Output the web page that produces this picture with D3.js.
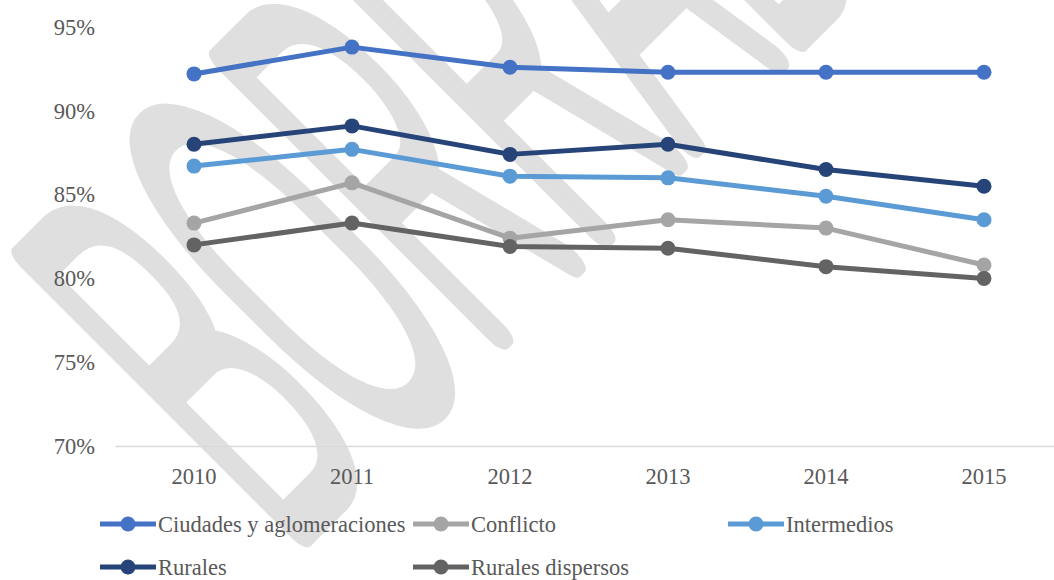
<!DOCTYPE html>
<html>
<head>
<meta charset="utf-8">
<script src="https://cdn.jsdelivr.net/npm/d3@7"></script>
<style>
  html, body { margin: 0; padding: 0; background: #ffffff; }
  svg { display: block; }
</style>
</head>
<body>
<svg id="chart" width="1054" height="580"></svg>
<script>
// Años del eje horizontal
const years = ["2010", "2011", "2012", "2013", "2014", "2015"];

// Porcentajes por tipo de municipio
const ciudades = [92.2, 93.8, 92.6, 92.3, 92.3, 92.3];
const conflicto = [83.3, 85.7, 82.4, 83.5, 83.0, 80.8];
const intermedios = [86.7, 87.7, 86.1, 86.0, 84.9, 83.5];
const rurales = [88.0, 89.1, 87.4, 88.0, 86.5, 85.5];
const ruralesDispersos = [82.0, 83.3, 81.9, 81.8, 80.7, 80.0];

// Marcas del eje vertical
const yTicks = [70, 75, 80, 85, 90, 95];

const seriesNames = ["Ciudades y aglomeraciones", "Conflicto", "Intermedios", "Rurales", "Rurales dispersos"];
const seriesColors = ["#4472C4", "#A5A5A5", "#5B9BD5", "#264478", "#636363"];
const seriesValues = [ciudades, conflicto, intermedios, rurales, ruralesDispersos];

const series = seriesNames.map((name, i) => ({
  name, color: seriesColors[i],
  points: years.map((y, j) => ({ year: y, value: seriesValues[i][j] }))
}));

const svg = d3.select("#chart");
const font = "'Liberation Serif', 'Times New Roman', serif";
const textColor = "#595959";
const fontSize = 22.5;

// Marca de agua "BORRADOR" al fondo
const wm = svg.append("text")
  .text("BORRADOR")
  .attr("font-family", "Roboto, 'Liberation Sans', sans-serif")
  .attr("font-weight", 100)
  .attr("font-size", 540)
  .attr("fill", "#dfdfdf")
  .attr("stroke", "#dfdfdf")
  .attr("stroke-width", 29)
  .attr("stroke-linejoin", "round")
  .attr("stroke-linecap", "round")
  .attr("vector-effect", "non-scaling-stroke");
const boLen = wm.node().getSubStringLength(0, 2);
const sx = 280 / boLen;
wm.attr("transform", `translate(282,548) rotate(-45) scale(${sx},1)`);

// Escalas
const x = d3.scaleBand().domain(years).range([115, 1063]).padding(0);
const y = d3.scaleLinear().domain([70, 95]).range([446, 27]);

// Eje X
const xAxis = svg.append("g")
  .attr("transform", `translate(0,${y(70)})`)
  .call(d3.axisBottom(x).tickSize(0).tickPadding(22));
xAxis.select(".domain").attr("stroke", "#d9d9d9").attr("stroke-width", 1.5);
xAxis.selectAll("text")
  .attr("font-family", font).attr("font-size", fontSize).attr("fill", textColor);

// Eje Y (solo etiquetas)
const yAxis = svg.append("g")
  .attr("transform", "translate(95,0)")
  .call(d3.axisLeft(y).tickValues(yTicks).tickFormat(d => d + "%").tickSize(0).tickPadding(0));
yAxis.select(".domain").remove();
yAxis.selectAll("text")
  .attr("font-family", font).attr("font-size", fontSize).attr("fill", textColor);

// Líneas y marcadores
const line = d3.line()
  .x(d => x(d.year) + x.bandwidth() / 2)
  .y(d => y(d.value));

const g = svg.append("g");
series.forEach(s => {
  g.append("path")
    .datum(s.points)
    .attr("d", line)
    .attr("fill", "none")
    .attr("stroke", s.color)
    .attr("stroke-width", 5)
    .attr("stroke-linejoin", "round");
  g.selectAll(null)
    .data(s.points)
    .join("circle")
    .attr("cx", d => x(d.year) + x.bandwidth() / 2)
    .attr("cy", d => y(d.value))
    .attr("r", 7.5)
    .attr("fill", s.color);
});

// Leyenda
const legendPos = [
  { x: 100, y: 524 }, { x: 413, y: 524 }, { x: 728, y: 524 },
  { x: 100, y: 567 }, { x: 413, y: 567 }
];
const legend = svg.append("g");
series.forEach((s, i) => {
  const p = legendPos[i];
  const item = legend.append("g").attr("transform", `translate(${p.x},${p.y})`);
  item.append("line")
    .attr("x1", 0).attr("x2", 56).attr("y1", 0).attr("y2", 0)
    .attr("stroke", s.color).attr("stroke-width", 5);
  item.append("circle")
    .attr("cx", 28).attr("cy", 0).attr("r", 7.5).attr("fill", s.color);
  item.append("text")
    .attr("x", 58).attr("y", 0).attr("dy", "0.35em")
    .attr("font-family", font).attr("font-size", fontSize).attr("fill", textColor)
    .text(s.name);
});
</script>
</body>
</html>
